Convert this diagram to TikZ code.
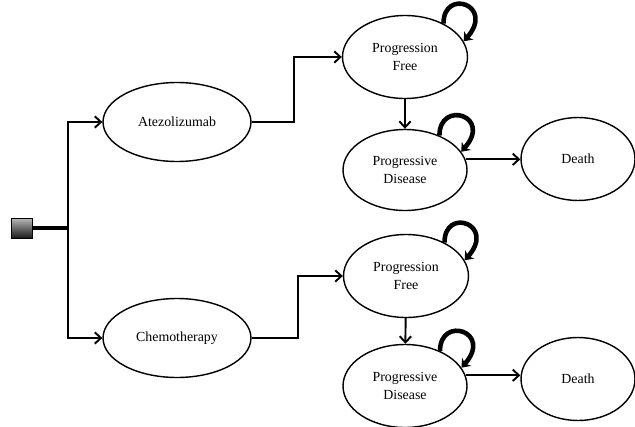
\documentclass[tikz,border=0pt]{standalone}
\usepackage{fontspec}
\setmainfont{Liberation Serif}
\usepackage{tikz}
\usetikzlibrary{arrows, arrows.meta, shapes.geometric}

\begin{document}
\begin{tikzpicture}[x=0.02cm, y=-0.02cm]
\tikzstyle{state}=[draw, ellipse, line width=0.8pt, inner sep=0pt, align=center, font=\fontsize{7.9}{10}\selectfont]
\tikzstyle{link}=[line width=1.1pt, -{Straight Barb[length=3.5pt, width=6.5pt]}]
\tikzstyle{selfloop}=[line width=2.6pt, -{Stealth[length=4.5pt, width=7pt]}]
\useasboundingbox (0,0) rectangle (635,426);

\node[draw, top color=gray!55, bottom color=black!90, minimum width=0.42cm, minimum height=0.4cm, inner sep=0pt] (root) at (22,228) {};
\coordinate (split) at (68,228);

\node[state, minimum width=2.96cm, minimum height=1.58cm] (atez) at (177,122) {Atezolizumab};
\node[state, minimum width=2.96cm, minimum height=1.58cm] (chemo) at (177,338) {Chemotherapy};

\node[state, minimum width=2.5cm, minimum height=1.66cm] (pf1) at (405,57) {Progression\\Free};
\node[state, minimum width=2.48cm, minimum height=1.62cm] (pd1) at (405,170) {Progressive\\Disease};
\node[state, minimum width=2.28cm, minimum height=1.66cm] (death1) at (578,159) {Death};

\node[state, minimum width=2.5cm, minimum height=1.66cm] (pf2) at (406,276) {Progression\\Free};
\node[state, minimum width=2.48cm, minimum height=1.66cm] (pd2) at (405,386) {Progressive\\Disease};
\node[state, minimum width=2.28cm, minimum height=1.66cm] (death2) at (578,379) {Death};

\draw[line width=2pt] (root) -- (split);
\draw[link] (split) |- (atez);
\draw[link] (split) |- (chemo);

\draw[link] (atez.east) -- ++(42,0) |- (pf1);
\draw[link] (chemo.east) -- ++(46,0) |- (pf2);

\draw[link] (pf1) -- (pd1);
\draw[link] (pd1.10) -- (pd1.10 -| death1.west);
\draw[link] (pf2) -- (pd2);
\draw[link] (pd2.10) -- (pd2.10 -| death2.west);

% loops
\draw[selfloop] (pf1.41) .. controls +(0,-36) and +(32,-36) .. (pf1.15);
\draw[selfloop] (pd1.45) .. controls +(0,-36) and +(32,-36) .. (pd1.18);
\draw[selfloop] (pf2.41) .. controls +(0,-36) and +(32,-36) .. (pf2.15);
\draw[selfloop] (pd2.45) .. controls +(0,-36) and +(32,-36) .. (pd2.18);

\end{tikzpicture}
\end{document}
